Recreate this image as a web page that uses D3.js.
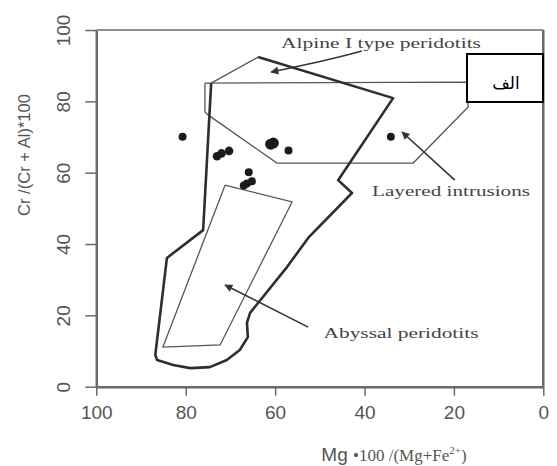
<!DOCTYPE html>
<html><head><meta charset="utf-8">
<script src="https://cdn.jsdelivr.net/npm/d3@7"></script>
<style>body{margin:0;background:#fff}svg{display:block}</style>
</head><body>
<svg id="c" width="557" height="466"></svg>
<script>
// ---- data (Mg# , Cr#) ----
const xTicks = [100, 80, 60, 40, 20, 0];
const yTicks = [0, 20, 40, 60, 80, 100];
const samples = [
  [80.7, 70.1], [73.0, 64.6], [72.0, 65.4], [70.3, 66.1],
  [61.0, 68.0], [60.4, 68.3], [57.0, 66.2], [65.9, 60.1],
  [66.3, 57.0], [65.2, 57.6], [67.0, 56.4], [34.1, 70.1]
];
const sampleSize = [4, 4.3, 4.3, 4.3, 5.5, 5.5, 4, 4, 4, 4, 4, 4];
const alpineField = [
  [74.3, 85.1], [76.1, 43.9], [84.2, 36.1], [86.8, 8.9], [86.4, 7.5],
  [82.8, 6.1], [79.0, 5.2], [74.6, 5.5], [70.8, 7.5], [67.9, 10.3],
  [66.1, 13.9], [66.3, 17.9], [65.6, 20.7], [57.3, 33.6], [52.6, 41.7],
  [42.8, 54.3], [45.9, 57.9], [33.6, 80.9], [63.8, 92.4]
];
const alpineClose = [[63.8, 92.4], [74.3, 85.1]];
const layeredField = [
  [75.7, 85.1], [17.1, 85.4], [16.8, 78.4], [29.1, 62.7],
  [59.6, 62.7], [75.0, 76.2], [75.7, 77.0], [75.7, 85.1]
];
const abyssalField = [
  [71.2, 56.5], [56.2, 51.8], [72.3, 11.7], [85.1, 11.1], [71.2, 56.5]
];
const arrows = [
  [[40.6, 94.1], [47.8, 91.7], [60.9, 88.2]],
  [[19.8, 57.9], [31.6, 71.4]],
  [[52.6, 16.7], [71.2, 28.5]]
];
const fieldLabels = ["Alpine I type peridotits", "Layered intrusions", "Abyssal peridotits"];
const fieldLabelPos = [[381, 48, 200], [451, 196, 158], [401, 338, 155]]; // px: cx, baseline, width
const boxLabel = "الف";

// ---- scales ----
const svg = d3.select("#c");
const x = d3.scaleLinear().domain([100, 0]).range([96.3, 543.3]);
const y = d3.scaleLinear().domain([0, 100]).range([386.7, 30]);
const axisCol = "#6a6a6a";

svg.append("defs").append("marker")
  .attr("id", "ah").attr("viewBox", "0 0 10 10").attr("refX", 9).attr("refY", 5)
  .attr("markerWidth", 10).attr("markerHeight", 8).attr("markerUnits", "userSpaceOnUse")
  .attr("orient", "auto")
  .append("path").attr("d", "M0,0 L10,5 L0,10 Z").attr("fill", "#333");

// frame top / right
svg.append("line").attr("x1", x(100)).attr("x2", x(0)).attr("y1", y(100)).attr("y2", y(100))
  .attr("stroke", axisCol).attr("stroke-width", 1.5);
svg.append("line").attr("x1", x(0)).attr("x2", x(0)).attr("y1", y(100)).attr("y2", y(0))
  .attr("stroke", axisCol).attr("stroke-width", 2.5);

// axes
const gx = svg.append("g").attr("transform", `translate(0,${y(0)})`)
  .call(d3.axisBottom(x).tickValues(xTicks).tickSize(9).tickSizeOuter(0).tickPadding(10));
const gy = svg.append("g").attr("transform", `translate(${x(100)},0)`)
  .call(d3.axisLeft(y).tickValues(yTicks).tickSize(11).tickSizeOuter(0));
[gx, gy].forEach(g => {
  g.select(".domain").attr("stroke", axisCol).attr("stroke-width", 2.5);
  g.selectAll(".tick line").attr("stroke", axisCol).attr("stroke-width", 1.5);
  g.selectAll("text").attr("fill", "#555").attr("font-family", "Liberation Sans, Arial, sans-serif")
    .attr("font-size", 19);
});
gx.selectAll("text").attr("dy", "0.71em");
gy.selectAll("text").attr("x", 0).attr("dy", "0.36em").attr("text-anchor", "middle")
  .attr("transform", "translate(-33,0) rotate(-90)");

// fields
const line = d3.line().x(d => x(d[0])).y(d => y(d[1]));
svg.append("path").attr("d", line(layeredField)).attr("fill", "none")
  .attr("stroke", "#555").attr("stroke-width", 1.3);
svg.append("path").attr("d", line(abyssalField)).attr("fill", "none")
  .attr("stroke", "#555").attr("stroke-width", 1.3);
svg.append("path").attr("d", line(alpineField)).attr("fill", "none")
  .attr("stroke", "#2e2e2e").attr("stroke-width", 2.6).attr("stroke-linejoin", "round");
svg.append("path").attr("d", line(alpineClose)).attr("fill", "none")
  .attr("stroke", "#555").attr("stroke-width", 1.3);

// arrows
const curve = d3.line().x(d => x(d[0])).y(d => y(d[1])).curve(d3.curveBasis);
arrows.forEach(a => {
  svg.append("path").attr("d", curve(a)).attr("fill", "none")
    .attr("stroke", "#333").attr("stroke-width", 1.6).attr("marker-end", "url(#ah)");
});

// samples
svg.selectAll("circle.s").data(samples).join("circle").attr("class", "s")
  .attr("cx", d => x(d[0])).attr("cy", d => y(d[1])).attr("r", (d, i) => sampleSize[i])
  .attr("fill", "#1a1a1a");

// field labels
fieldLabels.forEach((t, i) => {
  const p = fieldLabelPos[i];
  svg.append("text").attr("x", p[0] - p[2] / 2).attr("y", p[1]).text(t)
    .attr("font-family", "Liberation Serif, Times New Roman, serif").attr("font-size", 15.5)
    .attr("fill", "#444").attr("textLength", p[2]).attr("lengthAdjust", "spacingAndGlyphs");
});

// label box
svg.append("rect").attr("x", 467).attr("y", 54).attr("width", 76).attr("height", 48)
  .attr("fill", "#fff").attr("stroke", "#000").attr("stroke-width", 2);
svg.append("text").attr("x", 506).attr("y", 84).attr("text-anchor", "middle")
  .attr("dominant-baseline", "middle").attr("font-family", "DejaVu Sans, Noto Sans, sans-serif")
  .attr("font-size", 17).attr("fill", "#000").text(boxLabel);

// axis titles
svg.append("text").attr("transform", "translate(30,155) rotate(-90)").attr("text-anchor", "middle")
  .attr("font-family", "Liberation Sans, Arial, sans-serif").attr("font-size", 16).attr("fill", "#555")
  .attr("textLength", 122).attr("lengthAdjust", "spacingAndGlyphs")
  .text("Cr /(Cr + Al)*100");
const xt = svg.append("text").attr("x", 394).attr("y", 461).attr("text-anchor", "middle")
  .attr("fill", "#555");
xt.append("tspan").attr("font-family", "Liberation Sans, Arial, sans-serif").attr("font-size", 19).text("Mg ");
xt.append("tspan").attr("font-family", "Liberation Serif, Times New Roman, serif").attr("font-size", 17)
  .text("•100 /(Mg+Fe");
xt.append("tspan").attr("font-family", "Liberation Serif, serif").attr("font-size", 11).attr("dy", -7).text("2+");
xt.append("tspan").attr("font-family", "Liberation Serif, serif").attr("font-size", 17).attr("dy", 7).text(")");
</script>
</body></html>
